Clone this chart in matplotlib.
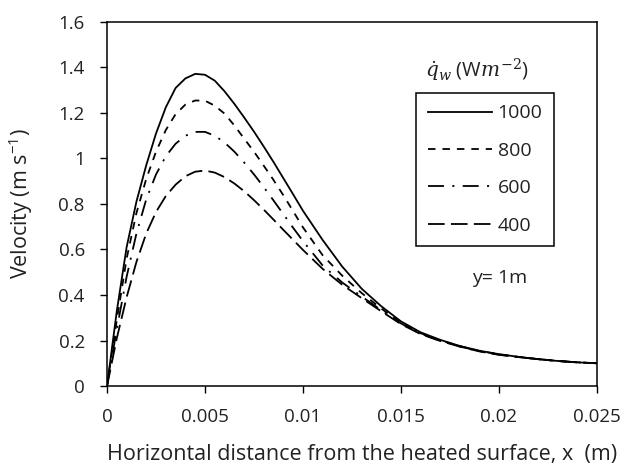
import matplotlib
matplotlib.use("Agg")
import matplotlib.pyplot as plt

plt.rcParams['font.family'] = ['Open Sans', 'DejaVu Sans']
plt.rcParams['mathtext.fontset'] = 'dejavuserif'
plt.rcParams['lines.scale_dashes'] = False

# horizontal distance from the heated surface (m)
x = [0, 0.0005, 0.001, 0.0015, 0.002, 0.0025, 0.003, 0.0035, 0.004, 0.0045,
     0.005, 0.0055, 0.006, 0.0065, 0.007, 0.0075, 0.008, 0.0085, 0.009, 0.0095,
     0.01, 0.011, 0.012, 0.013, 0.014, 0.015, 0.016, 0.017, 0.018, 0.019,
     0.02, 0.021, 0.022, 0.023, 0.024, 0.025]

# velocity (m/s) for each wall heat flux (W/m2)
v1000 = [0, 0.33, 0.61, 0.81, 0.97, 1.11, 1.225, 1.31, 1.352, 1.372,
         1.368, 1.342, 1.295, 1.24, 1.18, 1.118, 1.052, 0.984, 0.913, 0.842,
         0.77, 0.642, 0.525, 0.427, 0.35, 0.284, 0.236, 0.203, 0.176, 0.155,
         0.14, 0.128, 0.118, 0.11, 0.104, 0.10]
v800 = [0, 0.29, 0.56, 0.76, 0.91, 1.03, 1.125, 1.195, 1.237, 1.255,
        1.254, 1.232, 1.197, 1.145, 1.087, 1.03, 0.968, 0.905, 0.838, 0.768,
        0.697, 0.575, 0.485, 0.408, 0.34, 0.278, 0.232, 0.201, 0.175, 0.154,
        0.139, 0.128, 0.118, 0.11, 0.104, 0.10]
v600 = [0, 0.25, 0.48, 0.67, 0.82, 0.93, 1.01, 1.065, 1.10, 1.117,
        1.117, 1.10, 1.07, 1.03, 0.982, 0.93, 0.874, 0.815, 0.755, 0.695,
        0.637, 0.53, 0.455, 0.393, 0.333, 0.275, 0.23, 0.199, 0.174, 0.153,
        0.138, 0.127, 0.118, 0.11, 0.104, 0.10]
v400 = [0, 0.21, 0.39, 0.545, 0.67, 0.765, 0.835, 0.885, 0.922, 0.942,
        0.947, 0.938, 0.918, 0.89, 0.856, 0.817, 0.775, 0.731, 0.686, 0.642,
        0.598, 0.515, 0.445, 0.386, 0.328, 0.272, 0.228, 0.198, 0.173, 0.152,
        0.137, 0.127, 0.118, 0.11, 0.104, 0.10]

labels = ['1000', '800', '600', '400']
xticks = [0, 0.005, 0.01, 0.015, 0.02, 0.025]
xticklabels = ['0', '0.005', '0.01', '0.015', '0.02', '0.025']
yticks = [0, 0.2, 0.4, 0.6, 0.8, 1.0, 1.2, 1.4, 1.6]
yticklabels = ['0', '0.2', '0.4', '0.6', '0.8', '1', '1.2', '1.4', '1.6']

fig = plt.figure(figsize=(6.24, 4.72), dpi=100)
ax = fig.add_axes([0.1715, 0.1822, 0.7852, 0.7712])

lw = 1.3
ax.plot(x, v1000, color='black', lw=lw, label=labels[0])
ax.plot(x, v800, color='black', lw=lw, dashes=(5.4, 5.0), label=labels[1])
ax.plot(x, v600, color='black', lw=lw, dashes=(11.5, 6.0, 1.5, 6.0), label=labels[2])
ax.plot(x, v400, color='black', lw=lw, dashes=(12.0, 4.5), label=labels[3])

ax.set_xlim(0, 0.025)
ax.set_ylim(0, 1.6)
ax.set_xticks(xticks)
ax.set_xticklabels(xticklabels)
ax.set_yticks(yticks)
ax.set_yticklabels(yticklabels)
ax.tick_params(direction='out', length=5, width=1.0, labelsize=13.5,
               colors='black', labelcolor='#222222')
ax.tick_params(axis='x', pad=11)
ax.tick_params(axis='y', pad=11)
for s in ax.spines.values():
    s.set_linewidth(1.1)
    s.set_color('black')

ax.set_xlabel('Horizontal distance from the heated surface, x  (m)',
              fontsize=15.5, color='#222222')
ax.xaxis.set_label_coords(0.52, -0.16)
ax.set_ylabel(r'Velocity (m s$^{\mathregular{-1}}$)', fontsize=15.5,
              color='#222222')
ax.yaxis.set_label_coords(-0.148, 0.5)

leg = ax.legend(loc='upper left', bbox_to_anchor=(416 / 624, 1 - 92.7 / 472),
                bbox_transform=fig.transFigure, borderaxespad=0,
                fancybox=False, edgecolor='black', framealpha=1,
                fontsize=14, handlelength=3.3, handletextpad=0.3,
                labelspacing=1.0, borderpad=0.6)
leg.get_frame().set_linewidth(1.1)
for t in leg.get_texts():
    t.set_color('#222222')

fig.text(477 / 624, 1 - 70 / 472, r'$\dot{q}_w$ (W$m^{-2}$)', fontsize=14.5,
         ha='center', va='center', color='#222222')
fig.text(500 / 624, 1 - 278 / 472, 'y= 1m', fontsize=14,
         ha='center', va='center', color='#222222')

fig.savefig('out.png', dpi=100)
